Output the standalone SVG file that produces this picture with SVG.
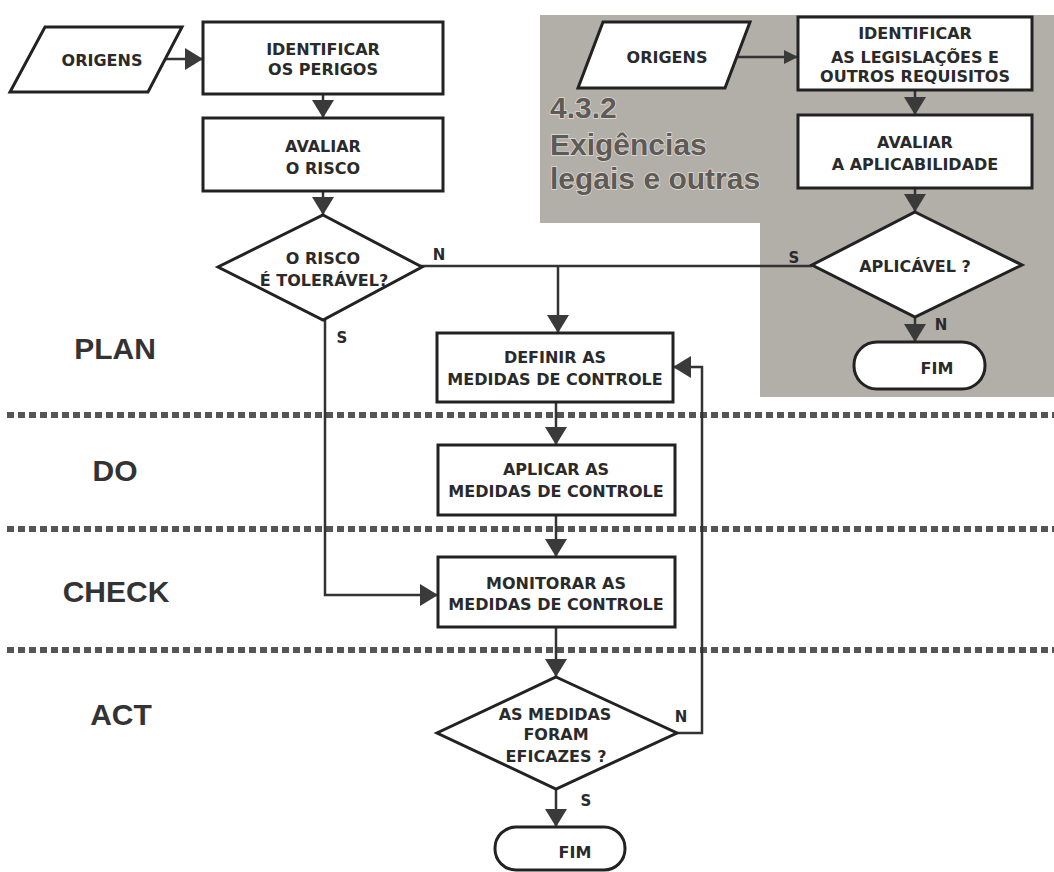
<svg xmlns="http://www.w3.org/2000/svg" width="1054" height="872" viewBox="0 0 1054 872">
<style>
.box{fill:#fff;stroke:#222;stroke-width:3}
.t{font-family:"DejaVu Sans",Verdana,sans-serif;font-weight:bold;font-size:16px;fill:#2a2a2a;text-anchor:middle}
.lbl{font-family:"DejaVu Sans",Verdana,sans-serif;font-weight:bold;font-size:15px;fill:#2a2a2a;text-anchor:middle}
.phase{font-family:"Liberation Sans",Arial,sans-serif;font-weight:bold;font-size:30px;fill:#333;text-anchor:middle}
.sec{font-family:"Liberation Sans",Arial,sans-serif;font-weight:bold;font-size:30px;fill:#5e5a56;stroke:#e2ded8;stroke-width:1.5;paint-order:stroke}
.dash{stroke:#555;stroke-width:6;stroke-dasharray:7 4;fill:none}
.c{stroke:#333;stroke-width:2.5;fill:none}
</style>
<defs>
<marker id="ah" markerUnits="userSpaceOnUse" markerWidth="18" markerHeight="22" viewBox="0 0 18 22" refX="18" refY="11" orient="auto">
<path d="M0,0 L18,11 L0,22 Z" fill="#3a3a3a"/>
</marker>
<marker id="ahs" markerUnits="userSpaceOnUse" markerWidth="14" markerHeight="14" viewBox="0 0 14 14" refX="14" refY="7" orient="auto">
<path d="M0,0 L14,7 L0,14 Z" fill="#3a3a3a"/>
</marker>
</defs>
<rect width="1054" height="872" fill="#fff"/>
<g id="gray-region">
<path d="M540,15 H1054 V397 H760 V223 H540 Z" fill="#b2aea8"/>
<text class="sec" x="550" y="118">4.3.2</text>
<text class="sec" x="550" y="155">Exigências</text>
<text class="sec" x="550" y="189">legais e outras</text>
</g>
<g id="phase-separators">
<line class="dash" x1="7" y1="415" x2="1054" y2="415"/>
<line class="dash" x1="7" y1="529" x2="1054" y2="529"/>
<line class="dash" x1="7" y1="650" x2="1054" y2="650"/>
</g>
<g id="phases">
<text class="phase" x="115" y="359">PLAN</text>
<text class="phase" x="115" y="481">DO</text>
<text class="phase" x="116" y="602">CHECK</text>
<text class="phase" x="121" y="725">ACT</text>
</g>
<g id="connectors">
<line class="c" x1="165" y1="59" x2="203" y2="59" marker-end="url(#ah)"/>
<line class="c" x1="323" y1="94" x2="323" y2="118" marker-end="url(#ah)"/>
<line class="c" x1="323" y1="191" x2="323" y2="215" marker-end="url(#ah)"/>
<line class="c" x1="420" y1="266" x2="812" y2="266"/>
<line class="c" x1="558" y1="266" x2="558" y2="333" marker-end="url(#ah)"/>
<path class="c" d="M325,320 V595 H438" marker-end="url(#ah)"/>
<line class="c" x1="556" y1="402" x2="556" y2="445" marker-end="url(#ah)"/>
<line class="c" x1="556" y1="515" x2="556" y2="557" marker-end="url(#ah)"/>
<line class="c" x1="556" y1="627" x2="556" y2="677" marker-end="url(#ah)"/>
<path class="c" d="M677,733 H702 V367 H673" marker-end="url(#ah)"/>
<line class="c" x1="556" y1="789" x2="556" y2="827" marker-end="url(#ah)"/>
<line class="c" x1="738" y1="57" x2="798" y2="57" marker-end="url(#ahs)"/>
<line class="c" x1="915" y1="90" x2="915" y2="115" marker-end="url(#ah)"/>
<line class="c" x1="915" y1="188" x2="915" y2="212" marker-end="url(#ah)"/>
<line class="c" x1="915" y1="317" x2="915" y2="342" marker-end="url(#ah)"/>
</g>
<g id="labels">
<text class="lbl" x="439" y="260">N</text>
<text class="lbl" x="342" y="343">S</text>
<text class="lbl" x="794" y="263">S</text>
<text class="lbl" x="941" y="330">N</text>
<text class="lbl" x="681" y="722">N</text>
<text class="lbl" x="586" y="806">S</text>
</g>
<g id="origens-left">
<polygon class="box" points="45,27 182,27 148,92 10,92"/>
<text class="t" x="102" y="66">ORIGENS</text>
</g>
<g id="identificar-perigos">
<rect class="box" x="203" y="22" width="240" height="72"/>
<text class="t" x="323" y="55">IDENTIFICAR</text>
<text class="t" x="323" y="75">OS PERIGOS</text>
</g>
<g id="avaliar-risco">
<rect class="box" x="203" y="118" width="240" height="73"/>
<text class="t" x="323" y="152">AVALIAR</text>
<text class="t" x="323" y="174">O RISCO</text>
</g>
<g id="risco-toleravel">
<polygon class="box" points="323,215 422,267 323,320 218,267"/>
<text class="t" x="323" y="264">O RISCO</text>
<text class="t" x="324" y="286">É TOLERÁVEL?</text>
</g>
<g id="origens-right">
<polygon class="box" points="603,22 750,22 725,88 578,88"/>
<text class="t" x="667" y="63">ORIGENS</text>
</g>
<g id="identificar-legislacoes">
<rect class="box" x="798" y="17" width="234" height="73"/>
<text class="t" x="915" y="39">IDENTIFICAR</text>
<text class="t" x="915" y="63">AS LEGISLAÇÕES E</text>
<text class="t" x="915" y="82">OUTROS REQUISITOS</text>
</g>
<g id="avaliar-aplicabilidade">
<rect class="box" x="798" y="115" width="234" height="73"/>
<text class="t" x="915" y="148">AVALIAR</text>
<text class="t" x="915" y="170">A APLICABILIDADE</text>
</g>
<g id="aplicavel">
<polygon class="box" points="915,212 1022,265 915,317 812,265"/>
<text class="t" x="915" y="272">APLICÁVEL ?</text>
</g>
<g id="fim-right">
<rect class="box" x="854" y="342" width="131" height="47" rx="23"/>
<text class="t" x="937" y="374">FIM</text>
</g>
<g id="definir">
<rect class="box" x="437" y="333" width="236" height="69"/>
<text class="t" x="555" y="363">DEFINIR AS</text>
<text class="t" x="555" y="385">MEDIDAS DE CONTROLE</text>
</g>
<g id="aplicar">
<rect class="box" x="438" y="445" width="237" height="70"/>
<text class="t" x="556" y="475">APLICAR AS</text>
<text class="t" x="556" y="497">MEDIDAS DE CONTROLE</text>
</g>
<g id="monitorar">
<rect class="box" x="438" y="557" width="237" height="70"/>
<text class="t" x="556" y="589">MONITORAR AS</text>
<text class="t" x="556" y="610">MEDIDAS DE CONTROLE</text>
</g>
<g id="eficazes">
<polygon class="box" points="556,677 677,733 556,789 437,733"/>
<text class="t" x="555" y="720">AS MEDIDAS</text>
<text class="t" x="556" y="740">FORAM</text>
<text class="t" x="556" y="762">EFICAZES ?</text>
</g>
<g id="fim-bottom">
<rect class="box" x="495" y="827" width="130" height="43" rx="21"/>
<text class="t" x="575" y="858">FIM</text>
</g>
</svg>
